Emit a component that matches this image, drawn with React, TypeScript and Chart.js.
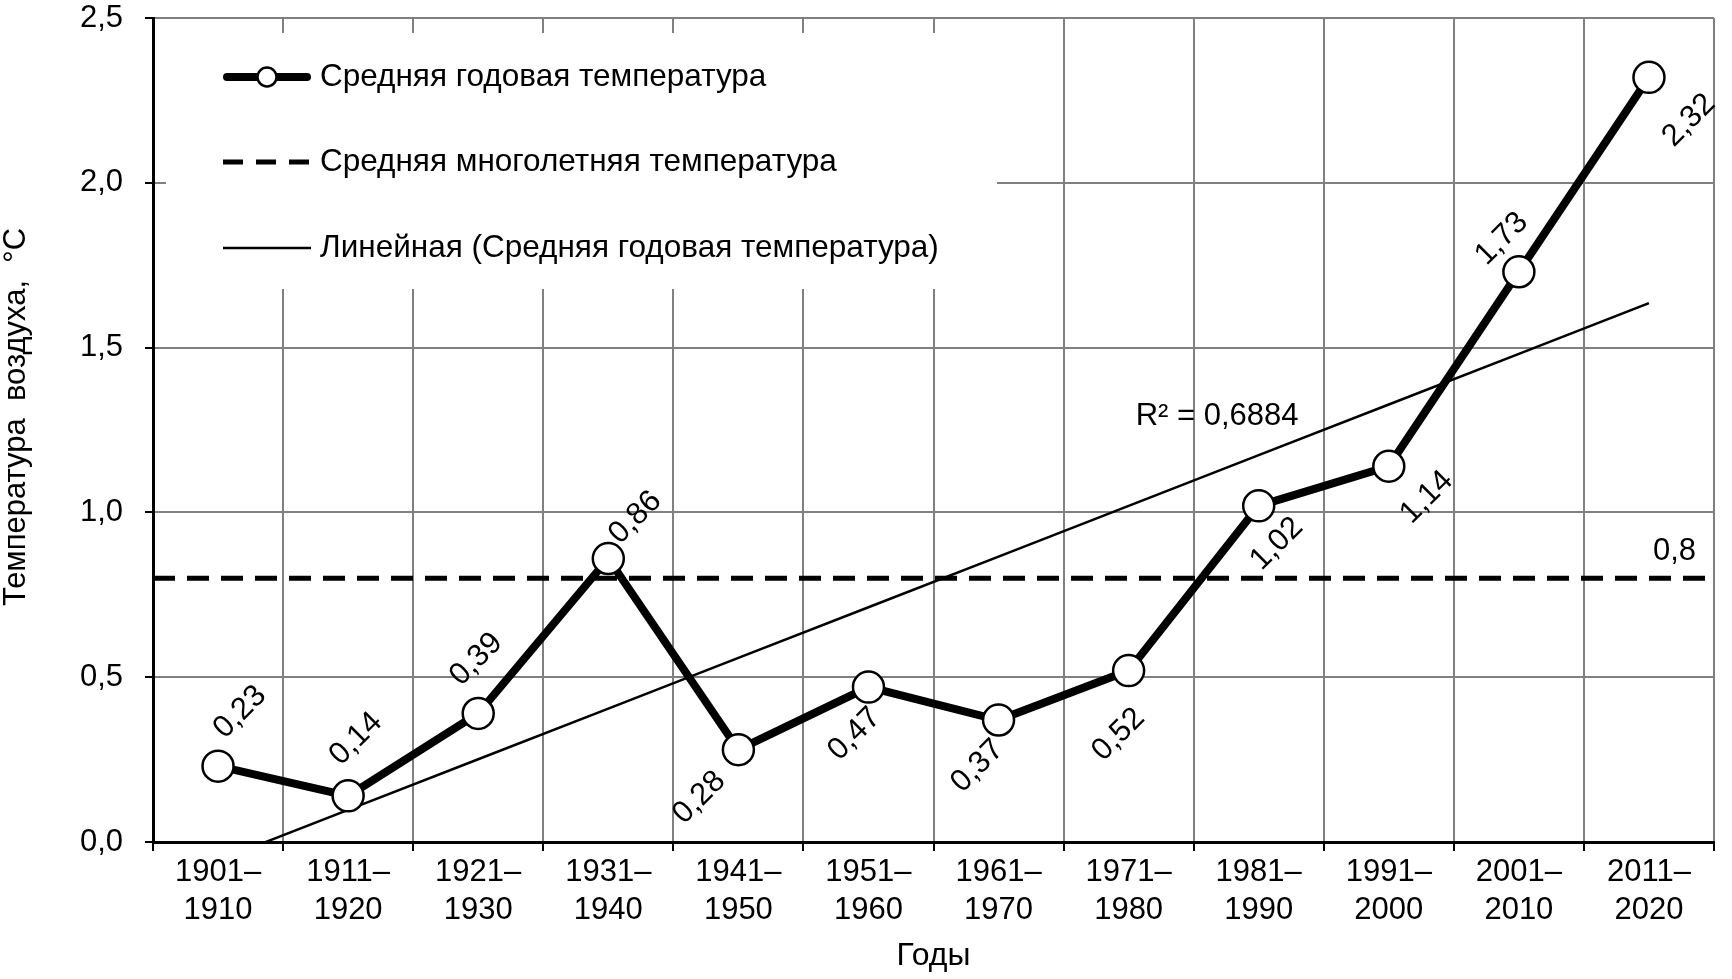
import React, { useEffect, useRef } from 'react';
import { Chart, registerables } from 'chart.js';

Chart.register(...registerables);

// ---------- data ----------
const categories: string[][] = [
  ['1901–', '1910'], ['1911–', '1920'], ['1921–', '1930'], ['1931–', '1940'],
  ['1941–', '1950'], ['1951–', '1960'], ['1961–', '1970'], ['1971–', '1980'],
  ['1981–', '1990'], ['1991–', '2000'], ['2001–', '2010'], ['2011–', '2020'],
];
const meanAnnualTemp: number[] = [0.23, 0.14, 0.39, 0.86, 0.28, 0.47, 0.37, 0.52, 1.02, 1.14, 1.73, 2.32];
const longTermMean = 0.8;
const longTermMeanLabel = '0,8';
const rSquaredLabel = 'R² = 0,6884';
const seriesNames: string[] = [
  'Средняя годовая температура',
  'Средняя многолетняя температура',
  'Линейная (Средняя годовая температура)',
];
const yAxisTitle = 'Температура  воздуха,  °С';
const xAxisTitle = 'Годы';
const yMin = 0;
const yMax = 2.5;
const yStep = 0.5;

// ---------- style ----------
const FONT = '"Liberation Sans", Arial, sans-serif';
const GRID = '#808080';
// per-point label offsets (px) from the marker centre
const labelOffsets: number[][] = [
  [22, -54], [8, -57], [-2, -54], [27, -41], [-39, 48], [-14, 47],
  [-21, 46], [-10, 64], [18, 38], [38, 31], [-17, -33], [40, 43],
];

// least squares trend of the annual series (as Excel's linear trendline)
function linearTrend(vals: number[]): number[] {
  const n = vals.length;
  const xs = vals.map((_, i) => i + 1);
  const mx = xs.reduce((a, b) => a + b, 0) / n;
  const my = vals.reduce((a, b) => a + b, 0) / n;
  let sxy = 0, sxx = 0;
  for (let i = 0; i < n; i++) { sxy += (xs[i] - mx) * (vals[i] - my); sxx += (xs[i] - mx) ** 2; }
  const b = sxy / sxx;
  const a = my - b * mx;
  return xs.map((x) => a + b * x);
}

const fmt = (v: number, d: number) => v.toFixed(d).replace('.', ',');

const overlayPlugin = {
  id: 'overlay',
  beforeDatasetsDraw(chart: any) {
    const { ctx, chartArea: a, scales } = chart;
    const y = scales.y;
    ctx.save();
    // legend background box
    ctx.fillStyle = '#ffffff';
    ctx.fillRect(a.left + 13, a.top + 15, 831, 256);
    // long-term mean dashed line
    const yy = y.getPixelForValue(longTermMean);
    ctx.beginPath();
    ctx.setLineDash([22, 12]);
    ctx.lineWidth = 5;
    ctx.strokeStyle = '#000';
    ctx.moveTo(a.left, yy);
    ctx.lineTo(a.right, yy);
    ctx.stroke();
    ctx.setLineDash([]);
    ctx.restore();
  },
  afterDatasetsDraw(chart: any) {
    const { ctx, chartArea: a, scales } = chart;
    const x = scales.x;
    const y = scales.y;
    ctx.save();
    ctx.fillStyle = '#000';
    ctx.strokeStyle = '#000';
    // y axis title
    ctx.save();
    ctx.font = `31px ${FONT}`;
    ctx.textAlign = 'center';
    ctx.textBaseline = 'middle';
    ctx.translate(16, (a.top + a.bottom) / 2 - 13);
    ctx.rotate(-Math.PI / 2);
    ctx.fillText(yAxisTitle, 0, 0);
    ctx.restore();
    // data labels (rotated)
    ctx.font = `31px ${FONT}`;
    ctx.textAlign = 'center';
    ctx.textBaseline = 'middle';
    meanAnnualTemp.forEach((v, i) => {
      const px = x.getPixelForValue(i);
      const py = y.getPixelForValue(v);
      const [dx, dy] = labelOffsets[i];
      ctx.save();
      ctx.translate(px + dx, py + dy);
      ctx.rotate(-Math.PI / 4);
      ctx.fillText(fmt(v, 2), 0, 0);
      ctx.restore();
    });
    // R² label
    ctx.textAlign = 'left';
    ctx.fillText(rSquaredLabel, x.getPixelForValue(7) + 7, y.getPixelForValue(1.29));
    // mean label
    ctx.textAlign = 'right';
    ctx.fillText(longTermMeanLabel, a.right - 18, y.getPixelForValue(longTermMean) - 27);

    // legend entries
    const lx0 = a.left + 70;
    const lx1 = a.left + 158;
    const tx = a.left + 167;
    const rows = [a.top + 59, a.top + 144, a.top + 230];
    ctx.font = `31.5px ${FONT}`;
    ctx.textAlign = 'left';
    ctx.textBaseline = 'middle';
    // row 1
    ctx.beginPath();
    ctx.lineWidth = 8;
    ctx.lineCap = 'round';
    ctx.moveTo(lx0 + 4, rows[0]);
    ctx.lineTo(lx1 - 4, rows[0]);
    ctx.stroke();
    ctx.lineCap = 'butt';
    ctx.beginPath();
    ctx.arc((lx0 + lx1) / 2, rows[0], 9.5, 0, Math.PI * 2);
    ctx.fillStyle = '#fff';
    ctx.fill();
    ctx.lineWidth = 2.5;
    ctx.stroke();
    ctx.fillStyle = '#000';
    ctx.fillText(seriesNames[0], tx, rows[0]);
    // row 2
    ctx.beginPath();
    ctx.lineWidth = 5;
    ctx.setLineDash([20, 13]);
    ctx.moveTo(lx0, rows[1]);
    ctx.lineTo(lx1, rows[1]);
    ctx.stroke();
    ctx.setLineDash([]);
    ctx.fillText(seriesNames[1], tx, rows[1]);
    // row 3
    ctx.beginPath();
    ctx.lineWidth = 2.5;
    ctx.moveTo(lx0, rows[2]);
    ctx.lineTo(lx1, rows[2]);
    ctx.stroke();
    ctx.fillText(seriesNames[2], tx, rows[2]);
    ctx.restore();
  },
};

export default function App() {
  const ref = useRef<HTMLCanvasElement | null>(null);
  useEffect(() => {
    if (!ref.current) return;
    const trend = linearTrend(meanAnnualTemp);
    const chart = new Chart(ref.current, {
      type: 'line',
      data: {
        labels: categories,
        datasets: [
          {
            label: seriesNames[0],
            data: meanAnnualTemp,
            borderColor: '#000',
            borderWidth: 8,
            pointRadius: 15.5,
            pointBackgroundColor: '#fff',
            pointBorderColor: '#000',
            pointBorderWidth: 2.5,
            tension: 0,
          },
          {
            label: seriesNames[2],
            data: trend,
            borderColor: '#000',
            borderWidth: 2.5,
            pointRadius: 0,
            clip: 0,
            tension: 0,
          },
        ],
      },
      options: {
        animation: false,
        responsive: true,
        maintainAspectRatio: false,
        devicePixelRatio: 1,
        layout: { padding: { top: 18, right: 10, left: 0, bottom: 0 } },
        plugins: { legend: { display: false }, tooltip: { enabled: false } },
        scales: {
          x: {
            type: 'category',
            offset: true,
            grid: {
              offset: true,
              color: GRID,
              lineWidth: 2,
              tickColor: '#000',
              tickLength: 9,
            },
            border: { color: '#000', width: 3 },
            ticks: {
              color: '#000',
              font: { family: FONT, size: 31, lineHeight: 1.22 },
              padding: 3,
              maxRotation: 0,
              autoSkip: false,
            },
            title: {
              display: true,
              text: xAxisTitle,
              color: '#000',
              font: { family: FONT, size: 32, lineHeight: 1.2 },
              padding: { top: 0, bottom: 4 },
            },
            afterFit: (s: any) => { s.height = 137; },
          },
          y: {
            min: yMin,
            max: yMax,
            grid: {
              color: GRID,
              lineWidth: 2,
              tickColor: '#000',
              tickLength: 8,
            },
            border: { color: '#000', width: 3 },
            ticks: {
              stepSize: yStep,
              color: '#000',
              font: { family: FONT, size: 31 },
              padding: 22,
              callback: (v: any) => fmt(Number(v), 1),
            },
            afterFit: (s: any) => {
              s.width = 153;
              s.paddingTop = 0;
              s.paddingBottom = 0;
            },
          },
        },
      },
      plugins: [overlayPlugin],
    });
    return () => chart.destroy();
  }, []);
  return (
    <div style={{ position: 'fixed', left: 0, top: 0, width: 1732, height: 979, background: '#fff' }}>
      <canvas ref={ref} />
    </div>
  );
}
